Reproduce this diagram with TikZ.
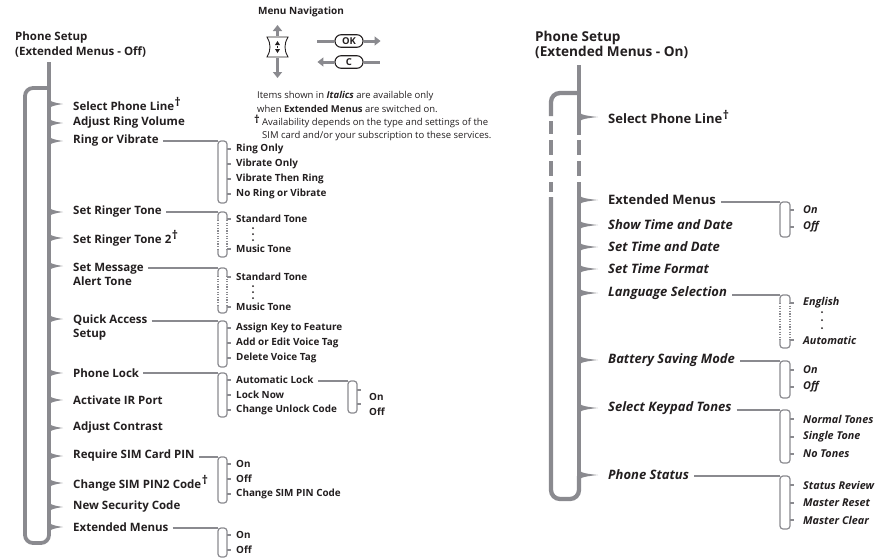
\documentclass[tikz,border=0pt]{standalone}
\usepackage{fontspec}
\setmainfont{Open Sans}
\usetikzlibrary{arrows.meta}
\definecolor{gc}{RGB}{138,138,143}
\definecolor{tc}{RGB}{35,31,32}
\newcommand\dg{\kern0.5pt\raisebox{0.36em}{\bfseries\large †}}
\newcommand\btip[3]{%
  \fill[gc] (#1-1.5,#2-7) .. controls (#1,#2-3) and (#1+3,#2-1.6) .. (#1+#3,#2)
    .. controls (#1+3,#2+1.6) and (#1,#2+3) .. (#1-1.5,#2+7) -- cycle;}
\newcommand\subbr[5]{% xl, yt, yb, width, ticks
  \draw[br] (#1,#2) rectangle (#1+#4,#3);
  \foreach \t in {#5} \draw[gc, line width=1.1] (#1+#4,\t) -- (#1+#4+4,\t);}
\newcommand\subbrd[5]{%
  \draw[br] (#1,#2+8) -- (#1,#2) -- (#1+#4,#2) -- (#1+#4,#2+8);
  \draw[br] (#1,#3-8) -- (#1,#3) -- (#1+#4,#3) -- (#1+#4,#3-8);
  \draw[gc, line width=1.1, dash pattern=on 1.2pt off 1.4pt] (#1,#2+8) -- (#1,#3-8) (#1+#4,#2+8) -- (#1+#4,#3-8);
  \foreach \t in {#5} \draw[gc, line width=1.1] (#1+#4,\t) -- (#1+#4+4,\t);}
\newcommand\dotcol[4]{\foreach \t in {#2,#3,#4} \fill[tc] (#1,\t) circle (1);}
\begin{document}
\begin{tikzpicture}[x=1pt,y=-1pt,
  braceL/.style={gc, line width=3.8},
  braceR/.style={gc, line width=4.3},
  conn/.style={gc, line width=1.8},
  br/.style={gc, line width=1.2, rounded corners=3},
  ttlL/.style={anchor=west, inner sep=0, align=left, font=\fontsize{11.5}{14}\selectfont\bfseries, text=tc},
  ttlR/.style={anchor=west, inner sep=0, align=left, font=\fontsize{13.6}{14}\selectfont\bfseries, text=tc},
  itL/.style={anchor=west, inner sep=0, align=left, font=\fontsize{11.5}{14}\selectfont\bfseries, text=tc},
  subL/.style={anchor=west, inner sep=0, font=\fontsize{9.9}{10}\selectfont\bfseries, text=tc},
  itR/.style={anchor=west, inner sep=0, font=\fontsize{13}{14}\selectfont\bfseries\itshape, text=tc},
  itRu/.style={anchor=west, inner sep=0, font=\fontsize{13}{14}\selectfont\bfseries, text=tc},
  subR/.style={anchor=west, inner sep=0, font=\fontsize{10.8}{11}\selectfont\bfseries\itshape, text=tc},
  navt/.style={anchor=west, inner sep=0, font=\fontsize{9.5}{10}\selectfont, text=tc},
  pill/.style={draw=tc, line width=1.1, rounded corners=6, minimum width=28, minimum height=12.5, inner sep=0, font=\fontsize{9.5}{10}\selectfont\bfseries, text=tc},
  navarrow/.style={gc, line width=3, -{Triangle[length=6pt,width=9pt]}},
  navline/.style={gc, line width=3}
]
\useasboundingbox (0,0) rectangle (879,558);

% ================= Menu navigation =================
\node[anchor=center, inner sep=0, font=\fontsize{10}{10}\selectfont\bfseries, text=tc] (mn) at (301,12) {Menu Navigation};
\draw[tc, line width=0.9] (267,37) -- (288,37) .. controls (284,43) and (284,51) .. (288,57) -- (267,57) .. controls (271,51) and (271,43) .. (267,37) -- cycle;
\draw[tc, line width=0.5] (277.5,46) -- (277.5,48);
\fill[tc] (275,45) -- (280,45) -- (277.5,41) -- cycle;
\fill[tc] (275,49) -- (280,49) -- (277.5,53) -- cycle;
\coordinate (key) at (277.5,47);
\draw[navarrow] (277.5,36) -- (277.5,25);
\draw[navarrow] (277.5,58) -- (277.5,78);
\node[pill] (ok) at (349,41) {OK};
\node[pill] (cb) at (349,62) {C};
\draw[navline] (ok.west) -- ++(-17,0);
\draw[navarrow] (ok.east) -- ++(17,0);
\draw[navarrow] (cb.west) -- ++(-17,0);
\draw[navline] (cb.east) -- ++(16,0);
\node[navt] (n1) at (257,96) {Items shown in \textbf{\textit{Italics}} are available only};
\node[navt] (n2) at (257,109) {when \textbf{Extended Menus} are switched on.};
\node[anchor=center, inner sep=0, font=\fontsize{11}{10}\selectfont\bfseries, text=tc] (dgn) at (257,119.5) {†};
\node[navt] (n3) at (262,123) {Availability depends on the type and settings of the};
\node[navt] (n4) at (262,136) {SIM card and/or your subscription to these services.};

% ================= Left panel =================
\node[ttlL] (tl1) at (15,38) {Phone Setup};
\node[ttlL] (tl2) at (15,52) {(Extended Menus - Off)};
\draw[braceL, rounded corners=8] (49,88) -- (25,88) -- (25,543) -- (49,543) -- (49,526);
\draw[braceL] (49,62) -- (49,530);
\foreach \y in {104,123,141,212,238,266,319,373,400,428,456,483,507,527} {\btip{49}{\y}{14}}

\node[itL] (spl) at (73,104) {Select Phone Line\dg};
\node[itL] (arv) at (73,123) {Adjust Ring Volume};
\node[itL] (rv) at (73,141) {Ring or Vibrate};
\node[itL] (srt) at (73,212) {Set Ringer Tone};
\node[itL] (srt2) at (73,238) {Set Ringer Tone 2\dg};
\node[itL] (sm) at (73,274) {Set Message\\Alert Tone};
\node[itL] (qa) at (73,328) {Quick Access\\Setup};
\node[itL] (pl) at (73,373) {Phone Lock};
\node[itL] (air) at (73,400) {Activate IR Port};
\node[itL] (ac) at (73,428) {Adjust Contrast};
\node[itL] (rsim) at (73,456) {Require SIM Card PIN};
\node[itL] (csim) at (73,483) {Change SIM PIN2 Code\dg};
\node[itL] (nsc) at (73,507) {New Security Code};
\node[itL] (em) at (73,527) {Extended Menus};

% sub-brackets left
\coordinate (b1) at (218,141);
\draw[conn] ([xshift=4]rv.east |- b1) -- (b1);
\subbr{218}{141}{203}{9}{149,164,179,194}
\node[subL] (s11) at (236,149) {Ring Only};
\node[subL] (s12) at (236,164) {Vibrate Only};
\node[subL] (s13) at (236,179) {Vibrate Then Ring};
\node[subL] (s14) at (236,194) {No Ring or Vibrate};

\coordinate (b2) at (218,212);
\draw[conn] ([xshift=4]srt.east |- b2) -- (b2);
\subbrd{218}{212}{257}{9}{219,249}
\node[subL] (s21) at (236,219) {Standard Tone};
\dotcol{253}{228}{234}{240}
\node[subL] (s22) at (236,249) {Music Tone};

\coordinate (b3) at (218,268);
\draw[conn] ([xshift=4]sm.east |- b3) -- (b3);
\subbrd{218}{268}{313}{9}{277,307}
\node[subL] (s31) at (236,277) {Standard Tone};
\dotcol{253}{286}{292}{298}
\node[subL] (s32) at (236,307) {Music Tone};

\coordinate (b4) at (218,321);
\draw[conn] ([xshift=4]qa.east |- b4) -- (b4);
\subbr{218}{321}{367}{9}{328,343,358}
\node[subL] (s41) at (236,328) {Assign Key to Feature};
\node[subL] (s42) at (236,343) {Add or Edit Voice Tag};
\node[subL] (s43) at (236,358) {Delete Voice Tag};

\coordinate (b5) at (218,373);
\draw[conn] ([xshift=4]pl.east |- b5) -- (b5);
\subbr{218}{373}{417}{9}{380,395,410}
\node[subL] (s51) at (236,380) {Automatic Lock};
\node[subL] (s52) at (236,395) {Lock Now};
\node[subL] (s53) at (236,410) {Change Unlock Code};

\coordinate (b6) at (348,381);
\draw[conn] ([xshift=4]s51.east |- b6) -- (b6);
\subbr{348}{381}{413}{9}{390,404}
\node[subL] (s61) at (369,397) {On};
\node[subL] (s62) at (369,412) {Off};

\coordinate (b7) at (218,457);
\draw[conn] ([xshift=4]rsim.east |- b7) -- (b7);
\subbr{218}{457}{503}{9}{464,479,494}
\node[subL] (s71) at (236,464) {On};
\node[subL] (s72) at (236,479) {Off};
\node[subL] (s73) at (236,494) {Change SIM PIN Code};

\coordinate (b8) at (218,528);
\draw[conn] ([xshift=4]em.east |- b8) -- (b8);
\subbr{218}{528}{557}{9}{535,550}
\node[subL] (s81) at (236,535) {On};
\node[subL] (s82) at (236,550) {Off};

% ================= Right panel =================
\node[ttlR] (tr1) at (535,38) {Phone Setup};
\node[ttlR] (tr2) at (535,52) {(Extended Menus - On)};
\draw[braceR, rounded corners=9] (579,93) -- (551,93) -- (551,116);
\foreach \a/\b in {121/134,140/155,161/176,182/192} {\draw[braceR] (551,\a) -- (551,\b);}
\draw[braceR, rounded corners=9] (551,197) -- (551,499) -- (579,499) -- (579,476);
\draw[braceR] (579,65) -- (579,135);
\foreach \a/\b in {140/155,161/176} {\draw[braceR] (579,\a) -- (579,\b);}
\draw[braceR] (579,182) -- (579,478);
\foreach \y in {117,200,225,247,269,293,360,408,475} {\btip{579}{\y}{19}}

\node[itRu] (rspl) at (608,117) {Select Phone Line\dg};
\node[itRu] (rem) at (608,200) {Extended Menus};
\node[itR] (rstd) at (608,225) {Show Time and Date};
\node[itR] (rsetd) at (608,247) {Set Time and Date};
\node[itR] (rstf) at (608,269) {Set Time Format};
\node[itR] (rls) at (608,293) {Language Selection};
\node[itR] (rbsm) at (608,360) {Battery Saving Mode};
\node[itR] (rskt) at (608,408) {Select Keypad Tones};
\node[itR] (rps) at (608,475) {Phone Status};

\coordinate (c1) at (780,202);
\draw[conn] ([xshift=5]rem.east |- c1) -- (c1);
\subbr{780}{202}{237}{10}{210,227}
\node[subR] (t11) at (803,210) {On};
\node[subR] (t12) at (803,227) {Off};

\coordinate (c2) at (780,295);
\draw[conn] ([xshift=5]rls.east |- c2) -- (c2);
\subbrd{780}{295}{348}{10}{303,340}
\node[subR] (t21) at (803,303) {English};
\dotcol{822}{312}{320}{328}
\node[subR] (t22) at (803,340) {Automatic};

\coordinate (c3) at (780,361);
\draw[conn] ([xshift=5]rbsm.east |- c3) -- (c3);
\subbr{780}{361}{398}{10}{370,387}
\node[subR] (t31) at (803,370) {On};
\node[subR] (t32) at (803,387) {Off};

\coordinate (c4) at (780,410);
\draw[conn] ([xshift=5]rskt.east |- c4) -- (c4);
\subbr{780}{410}{463}{10}{419,437,454}
\node[subR] (t41) at (803,419) {Normal Tones};
\node[subR] (t42) at (803,437) {Single Tone};
\node[subR] (t43) at (803,454) {No Tones};

\coordinate (c5) at (780,476);
\draw[conn] ([xshift=5]rps.east |- c5) -- (c5);
\subbr{780}{476}{529}{10}{485,503,520}
\node[subR] (t51) at (803,485) {Status Review};
\node[subR] (t52) at (803,503) {Master Reset};
\node[subR] (t53) at (803,520) {Master Clear};
\end{tikzpicture}
\end{document}
